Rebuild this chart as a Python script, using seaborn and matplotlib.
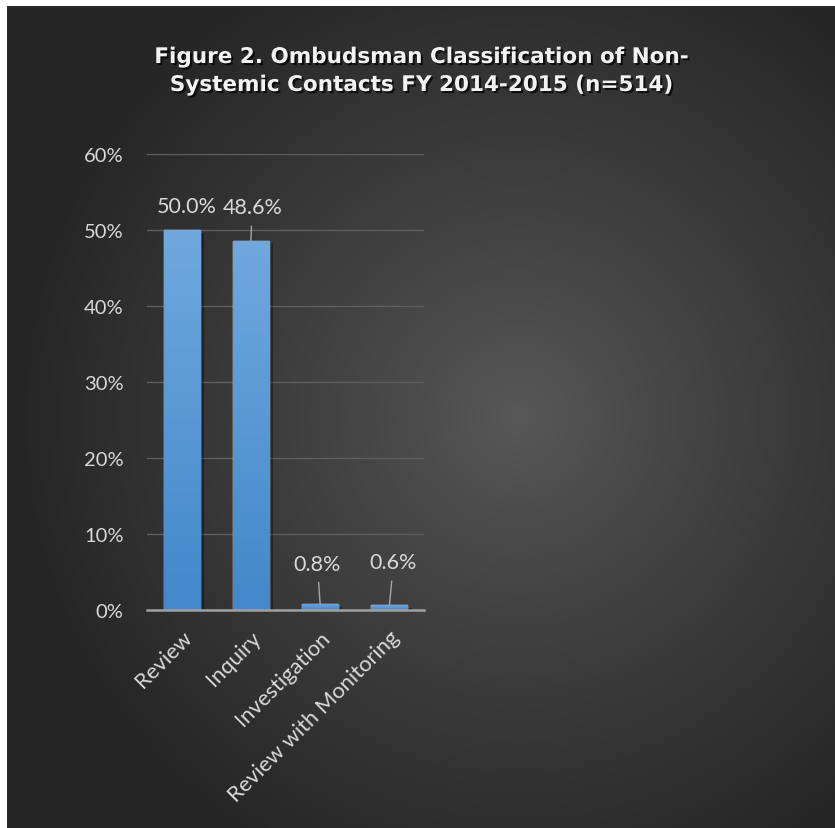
import numpy as np
import pandas as pd
import matplotlib
matplotlib.use("Agg")
import matplotlib.pyplot as plt
import matplotlib.patheffects as pe
import seaborn as sns

# ---- data ----
categories = ["Review", "Inquiry", "Investigation", "Review with Monitoring"]
values = [50.0, 48.6, 0.8, 0.6]
y_ticks = [0, 10, 20, 30, 40, 50, 60]
y_tick_labels = ["0%", "10%", "20%", "30%", "40%", "50%", "60%"]
title_text = "Figure 2. Ombudsman Classification of Non-\nSystemic Contacts FY 2014-2015 (n=514)"

df = pd.DataFrame({"category": categories, "value": values})

sns.set_theme(style="dark")
plt.rcParams["font.family"] = ["Lato", "DejaVu Sans"]

W, H = 835, 829
fig = plt.figure(figsize=(W / 100, H / 100), dpi=100, facecolor="white")

# background panel with radial gradient
bg = fig.add_axes([7 / W, 0, (W - 7) / W, (H - 7) / H])
bg.set_axis_off()
gh, gw = 400, 400
yy, xx = np.mgrid[0:gh, 0:gw]
pw, ph = W - 7, H - 7
px = xx / gw * pw
py = yy / gh * ph
cx, cy = 510, 410
r = np.sqrt((px - cx) ** 2 + (py - cy) ** 2)
t = np.clip(r / 500, 0, 1)
lum = 0.35 - (0.35 - 0.15) * t ** 0.85
img = np.dstack([lum, lum, lum])
bg.imshow(img, extent=[0, 1, 0, 1], aspect="auto", origin="upper")
bg.set_xlim(0, 1)
bg.set_ylim(0, 1)

ax = fig.add_axes([147 / W, 1 - 611 / H, (424 - 147) / W, (611 - 155) / H])
ax.patch.set_alpha(0)

sns.barplot(data=df, x="category", y="value", color="#5b9bd5", width=0.52,
            ax=ax, saturation=1, zorder=3)

ax.set_ylim(0, 60)
ax.set_xlim(-0.5, len(categories) - 0.5)
ax.set_yticks(y_ticks)
ax.set_yticklabels(y_tick_labels)
ax.set_xlabel("")
ax.set_ylabel("")
for s in ["top", "right", "left"]:
    ax.spines[s].set_visible(False)
ax.spines["bottom"].set_color("#a0a0a0")
ax.spines["bottom"].set_linewidth(1.8)
ax.spines["bottom"].set_zorder(5)
ax.grid(axis="y", color="#5e5e5e", linewidth=1.0, zorder=0)
ax.grid(axis="x", visible=False)
ax.tick_params(axis="y", colors="#d9d9d9", labelsize=14.5, length=0, pad=17)
ax.tick_params(axis="x", colors="#d9d9d9", labelsize=15.8, length=0, pad=12)
for lbl in ax.get_xticklabels():
    lbl.set_rotation(45)
    lbl.set_ha("right")
    lbl.set_rotation_mode("anchor")
    lbl.set_va("top")

# gradient fill on bars
grad = np.linspace(0, 1, 100).reshape(-1, 1)
top_c = np.array([112, 168, 222]) / 255
bot_c = np.array([66, 136, 202]) / 255
gimg = top_c[None, None, :] * (1 - grad[:, :, None]) + bot_c[None, None, :] * grad[:, :, None]
for p in list(ax.patches):
    x0, y0 = p.get_x(), p.get_y()
    w, h = p.get_width(), p.get_height()
    p.set_path_effects([pe.SimplePatchShadow(offset=(3, -2), shadow_rgbFace="black", alpha=0.35), pe.Normal()])
    im = ax.imshow(gimg, extent=[x0, x0 + w, y0, y0 + h], aspect="auto",
                   origin="upper", zorder=4)
    im.set_clip_path(p)
ax.set_xlim(-0.5, len(categories) - 0.5)
ax.set_ylim(0, 60)

# data labels (style offsets in points)
offsets = [(3.6, 17.3), (1.0, 24.0), (-2.0, 29.0), (3.0, 31.0)]
leaders = [False, True, True, True]
for i, (v, off, lead) in enumerate(zip(values, offsets, leaders)):
    kw = {}
    if lead:
        kw["arrowprops"] = dict(arrowstyle="-", color="#a6a6a6", lw=1.0,
                                shrinkA=4, shrinkB=0)
    ax.annotate(f"{v:.1f}%", xy=(i, v), xytext=off, textcoords="offset points",
                ha="center", va="center", fontsize=15.5, color="#d9d9d9",
                zorder=6, **kw)

fig.text((7 + W) / 2 / W, 1 - 72 / H, title_text, ha="center", va="center",
         fontsize=15.5, fontweight="bold", color="#f2f2f2",
         family=["DejaVu Sans"], linespacing=1.5,
         path_effects=[pe.withSimplePatchShadow(offset=(1.5, -1.5), shadow_rgbFace="black", alpha=0.7)])

fig.savefig("out.png", dpi=100, facecolor="white")
